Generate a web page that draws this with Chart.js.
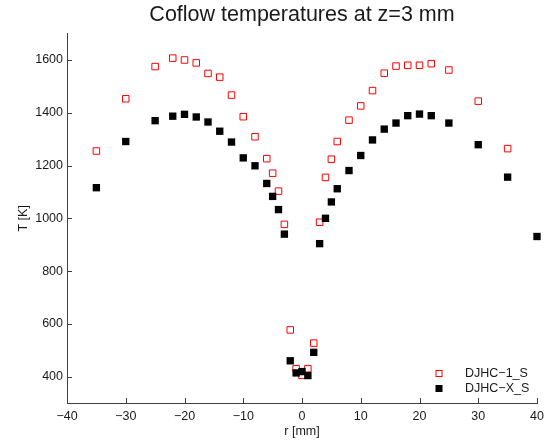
<!DOCTYPE html>
<html>
<head>
<meta charset="utf-8">
<title>Coflow temperatures</title>
<script src="https://cdn.jsdelivr.net/npm/chart.js@4.4.1/dist/chart.umd.min.js"></script>
<style>
    html, body { margin: 0; padding: 0; background: #fff; }
    canvas { display: block; }
</style>
</head>
<body>
<canvas id="coflowChart" width="553" height="445"></canvas>
<script>
// radial positions [mm]
const radius = [-35, -30, -25, -22, -20, -18, -16, -14, -12, -10, -8, -6, -5, -4, -3, -2, -1, 0,
                1, 2, 3, 4, 5, 6, 8, 10, 12, 14, 16, 18, 20, 22, 25, 30, 35, 40];

// temperatures [K]
const tempDJHC1 = [1255, 1453, 1575, 1607, 1600, 1589, 1549, 1535, 1467, 1385, 1309, 1226, 1171, 1103, 977, 577, 430, 405,
                   430, 527, 985, 1155, 1224, 1291, 1372, 1426, 1484, 1550, 1577, 1580, 1580, 1586, 1562, 1444, 1264, null];
const tempDJHCX = [1116, 1291, 1370, 1387, 1394, 1384, 1365, 1330, 1289, 1229, 1199, 1132, 1083, 1033, 940, 460, 414, 419,
                   404, 492, 904, 1000, 1062, 1112, 1181, 1238, 1297, 1338, 1361, 1389, 1395, 1389, 1361, 1279, 1156, 931];

const seriesLabels = ['DJHC\u22121_S', 'DJHC\u2212X_S'];
const yTickValues = [400, 600, 800, 1000, 1200, 1400, 1600];

const FONT = "'Liberation Sans', Arial, Helvetica, sans-serif";
const AXIS_COLOR = '#404040';
const TEXT_COLOR = '#1a1a1a';

const toPoints = (xs, ys) => xs.map((x, i) => ({ x, y: ys[i] })).filter(p => p.y !== null);
const minus = v => String(v).replace('-', '\u2212');

// MATLAB style: ticks pointing into the axes, legend in the lower right corner
const matlabLook = {
    id: 'matlabLook',
    afterDraw(chart) {
        const { ctx, chartArea: area, scales } = chart;
        ctx.save();
        ctx.strokeStyle = AXIS_COLOR;
        ctx.lineWidth = 1;
        ctx.beginPath();
        scales.x.ticks.forEach(t => {
            const px = Math.round(scales.x.getPixelForValue(t.value)) + 0.5;
            ctx.moveTo(px, area.bottom);
            ctx.lineTo(px, area.bottom - 5);
        });
        scales.y.ticks.forEach(t => {
            const py = Math.round(scales.y.getPixelForValue(t.value)) + 0.5;
            ctx.moveTo(area.left, py);
            ctx.lineTo(area.left + 5, py);
        });
        ctx.stroke();

        // legend
        ctx.font = '12.5px ' + FONT;
        ctx.textAlign = 'left';
        ctx.textBaseline = 'middle';
        const rows = [373.5, 388.5];
        chart.data.datasets.forEach((ds, i) => {
            const y = rows[i];
            const side = ds.legendSide;
            if (ds.pointBackgroundColor === 'transparent') {
                ctx.strokeStyle = ds.pointBorderColor;
                ctx.strokeRect(439 - side / 2, y - side / 2, side, side);
            } else {
                ctx.fillStyle = ds.pointBackgroundColor;
                ctx.fillRect(439 - side / 2, y - side / 2, side, side);
            }
            ctx.fillStyle = TEXT_COLOR;
            ctx.fillText(ds.label, 465, y);
        });
        ctx.restore();
    }
};

new Chart(document.getElementById('coflowChart'), {
    type: 'scatter',
    data: {
        datasets: [
            {
                label: seriesLabels[0],
                data: toPoints(radius, tempDJHC1),
                pointStyle: 'rect',
                pointRadius: 4.6,
                pointBackgroundColor: 'transparent',
                pointBorderColor: '#ff0000',
                pointBorderWidth: 1,
                legendSide: 6,
                clip: false,
                order: 1
            },
            {
                label: seriesLabels[1],
                data: toPoints(radius, tempDJHCX),
                pointStyle: 'rect',
                pointRadius: 5.2,
                pointBackgroundColor: '#000000',
                pointBorderColor: '#000000',
                pointBorderWidth: 0,
                legendSide: 7,
                clip: false,
                order: 0
            }
        ]
    },
    options: {
        responsive: false,
        animation: false,
        layout: { padding: { left: 0, right: 16, top: 0, bottom: 0 } },
        plugins: {
            legend: { display: false },
            tooltip: { enabled: false },
            title: {
                display: true,
                text: 'Coflow temperatures at z=3 mm',
                fullSize: false,
                color: TEXT_COLOR,
                font: { family: FONT, size: 21.5, weight: 'normal', lineHeight: 1.2 },
                padding: { top: 2, bottom: 5.8 }
            }
        },
        scales: {
            x: {
                type: 'linear',
                min: -40,
                max: 40,
                afterFit: s => { s.height = 42; },
                grid: { display: false, drawTicks: false },
                border: { display: true, color: AXIS_COLOR, width: 1 },
                ticks: {
                    stepSize: 10,
                    padding: 6,
                    color: TEXT_COLOR,
                    font: { family: FONT, size: 12.5 },
                    maxRotation: 0,
                    callback: v => minus(v)
                },
                title: {
                    display: true,
                    text: 'r [mm]',
                    color: TEXT_COLOR,
                    font: { family: FONT, size: 12.5, lineHeight: 1.2 },
                    padding: { top: 0, bottom: 5.5 }
                }
            },
            y: {
                type: 'linear',
                min: 300,
                max: 1700,
                afterFit: s => { s.width = 67; },
                afterBuildTicks: s => {
                    s.ticks = yTickValues.map(value => ({ value }));
                },
                grid: { display: false, drawTicks: false },
                border: { display: true, color: AXIS_COLOR, width: 1 },
                ticks: {
                    padding: 4,
                    color: TEXT_COLOR,
                    font: { family: FONT, size: 12.5 },
                    callback: v => minus(v)
                },
                title: {
                    display: true,
                    text: 'T [K]',
                    color: TEXT_COLOR,
                    font: { family: FONT, size: 12.5, lineHeight: 1.2 },
                    padding: { top: 16.5, bottom: 0 }
                }
            }
        }
    },
    plugins: [matlabLook]
});
</script>
</body>
</html>
